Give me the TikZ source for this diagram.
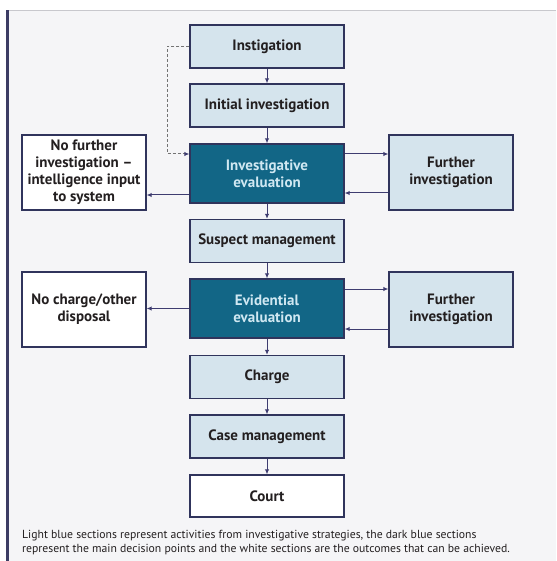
\documentclass[tikz,border=0pt]{standalone}
\usepackage{fontspec}
\setmainfont{PT Sans}
\usetikzlibrary{arrows.meta}
\definecolor{paper}{RGB}{245,245,247}
\definecolor{lightbox}{RGB}{213,228,237}
\definecolor{darkbox}{RGB}{18,102,134}
\definecolor{edge}{RGB}{48,52,92}
\definecolor{linkc}{RGB}{62,60,112}
\definecolor{inktext}{RGB}{35,31,32}
\definecolor{darktext}{RGB}{208,232,242}
\definecolor{frameleft}{RGB}{60,60,100}
\definecolor{frametop}{RGB}{200,200,205}
\tikzset{
  base/.style={draw=edge, line width=1.4pt, inner sep=0pt, align=center,
    font=\fontsize{15}{17}\selectfont\bfseries, text=inktext},
  lightstep/.style={base, fill=lightbox, minimum width=154pt, minimum height=43pt},
  decision/.style={base, fill=darkbox, text=darktext, minimum width=154pt, minimum height=59pt},
  outcome/.style={base, fill=white, minimum width=124pt, minimum height=75pt},
  sidestep/.style={base, fill=lightbox, minimum width=124pt, minimum height=75pt},
  link/.style={draw=linkc, line width=1pt, -{Latex[length=5pt,width=4.5pt]}},
  loopback/.style={draw=black!55, line width=1pt, dash pattern=on 3pt off 2pt,
    -{Latex[length=5pt,width=4.5pt,fill=linkc,color=linkc]}},
  caption/.style={anchor=base west, inner sep=0pt, text=inktext,
    font=\fontsize{11.7}{14}\selectfont}
}
\begin{document}
\begin{tikzpicture}[x=1pt,y=-1pt]
  \useasboundingbox (0,0) rectangle (556,561);
  \fill[white] (0,0) rectangle (556,561);
  \fill[paper] (7,11) rectangle (556,561);
  \draw[frametop, line width=1pt] (7,11) -- (556,11);
  \draw[frameleft, line width=2.2pt] (7.5,10.5) -- (7.5,561);

  % main column
  \node[lightstep] (ins) at (267,46.5) {Instigation};
  \node[lightstep] (ini) at (267,105.5) {Initial investigation};
  \node[decision]  (ie)  at (267,173.5) {Investigative\\evaluation};
  \node[lightstep] (sm)  at (267,241) {Suspect management};
  \node[decision]  (ee)  at (267,308.5) {Evidential\\evaluation};
  \node[lightstep] (ch)  at (267,377) {Charge};
  \node[lightstep] (cm)  at (267,436.5) {Case management};
  \node[base, fill=white, minimum width=154pt, minimum height=42pt] (co) at (267,496) {Court};

  % side boxes
  \node[outcome]  (nf)  at (84,172.5) {No further\\investigation –\\intelligence input\\to system};
  \node[sidestep] (fi1) at (451,172.5) {Further\\investigation};
  \node[outcome]  (nc)  at (84,309.5) {No charge/other\\disposal};
  \node[sidestep] (fi2) at (451,309.5) {Further\\investigation};

  % flow down the main column
  \draw[link] (ins) -- (ini);
  \draw[link] (ini) -- (ie);
  \draw[link] (ie) -- (sm);
  \draw[link] (sm) -- (ee);
  \draw[link] (ee) -- (ch);
  \draw[link] (ch) -- (cm);
  \draw[link] (cm) -- (co);

  % investigative evaluation branches
  \draw[link] ([yshift=19.5pt]ie.east) -- ([yshift=19.5pt]ie.east -| fi1.west);
  \draw[link] ([yshift=-19.5pt]ie.east -| fi1.west) -- ([yshift=-19.5pt]ie.east);
  \draw[link] ([yshift=-21.5pt]ie.west) -- ([yshift=-21.5pt]ie.west -| nf.east);

  % evidential evaluation branches
  \draw[link] ([yshift=19.5pt]ee.east) -- ([yshift=19.5pt]ee.east -| fi2.west);
  \draw[link] ([yshift=-20.5pt]ee.east -| fi2.west) -- ([yshift=-20.5pt]ee.east);
  \draw[link] (ee.west) -- (ee.west -| nc.east);

  % shortcut from instigation straight to evaluation
  \draw[loopback] (ins.west) -- ++(-22,0) |- ([yshift=19.5pt]ie.west);

  % key
  \node[caption] (key1) at (22,538) {Light blue sections represent activities from investigative strategies, the dark blue sections};
  \node[caption] (key2) at (22,552) {represent the main decision points and the white sections are the outcomes that can be achieved.};
\end{tikzpicture}
\end{document}
